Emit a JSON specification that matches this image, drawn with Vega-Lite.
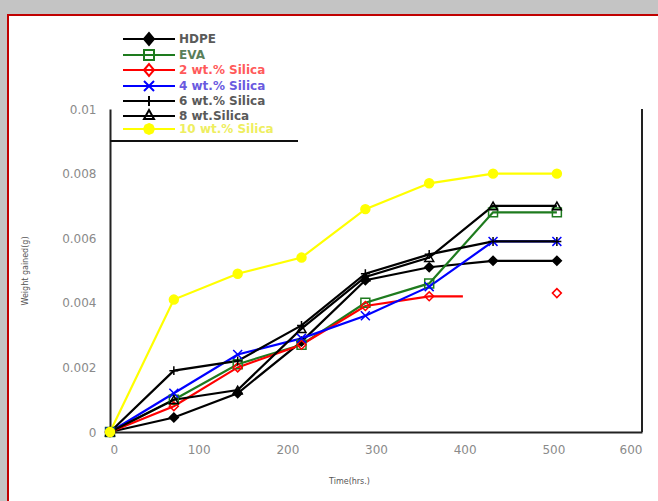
{
  "$schema": "https://vega.github.io/schema/vega-lite/v6.json",
  "autosize": "none",
  "width": 653,
  "height": 489,
  "padding": {"left": 8, "top": 15, "right": -3, "bottom": -3},
  "background": "#c4c4c4",
  "config": {
    "view": {"fill": "white", "stroke": "#c00000", "strokeWidth": 2},
    "font": "DejaVu Sans",
    "legend": {
      "orient": "none", "legendX": 135, "legendY": 18, "title": null, "padding": 0,
      "symbolSize": 100, "symbolStrokeWidth": 2, "rowPadding": -4, "labelOffset": 24,
      "labelFont": "DejaVu Sans", "labelFontSize": 12, "labelFontWeight": "bold"
    }
  },
  "data": {
    "values": [
      {"s": "HDPE", "t": 0, "w": 0, "seg": "a", "m": 1},
      {"s": "HDPE", "t": 72, "w": 0.00045, "seg": "a", "m": 1},
      {"s": "HDPE", "t": 144, "w": 0.0012, "seg": "a", "m": 1},
      {"s": "HDPE", "t": 216, "w": 0.0028, "seg": "a", "m": 1},
      {"s": "HDPE", "t": 288, "w": 0.0047, "seg": "a", "m": 1},
      {"s": "HDPE", "t": 360, "w": 0.0051, "seg": "a", "m": 1},
      {"s": "HDPE", "t": 432, "w": 0.0053, "seg": "a", "m": 1},
      {"s": "HDPE", "t": 504, "w": 0.0053, "seg": "a", "m": 1},
      {"s": "EVA", "t": 0, "w": 0, "seg": "a", "m": 1},
      {"s": "EVA", "t": 72, "w": 0.0010, "seg": "a", "m": 1},
      {"s": "EVA", "t": 144, "w": 0.0021, "seg": "a", "m": 1},
      {"s": "EVA", "t": 216, "w": 0.0027, "seg": "a", "m": 1},
      {"s": "EVA", "t": 288, "w": 0.0040, "seg": "a", "m": 1},
      {"s": "EVA", "t": 360, "w": 0.0046, "seg": "a", "m": 1},
      {"s": "EVA", "t": 432, "w": 0.0068, "seg": "a", "m": 1},
      {"s": "EVA", "t": 504, "w": 0.0068, "seg": "a", "m": 1},
      {"s": "2 wt.% Silica", "t": 0, "w": 0, "seg": "a", "m": 1},
      {"s": "2 wt.% Silica", "t": 72, "w": 0.0008, "seg": "a", "m": 1},
      {"s": "2 wt.% Silica", "t": 144, "w": 0.0020, "seg": "a", "m": 1},
      {"s": "2 wt.% Silica", "t": 216, "w": 0.0027, "seg": "a", "m": 1},
      {"s": "2 wt.% Silica", "t": 288, "w": 0.0039, "seg": "a", "m": 1},
      {"s": "2 wt.% Silica", "t": 360, "w": 0.0042, "seg": "a", "m": 1},
      {"s": "2 wt.% Silica", "t": 398, "w": 0.0042, "seg": "a", "m": 0},
      {"s": "2 wt.% Silica", "t": 504, "w": 0.0043, "seg": "b", "m": 1},
      {"s": "4 wt.% Silica", "t": 0, "w": 0, "seg": "a", "m": 1},
      {"s": "4 wt.% Silica", "t": 72, "w": 0.0012, "seg": "a", "m": 1},
      {"s": "4 wt.% Silica", "t": 144, "w": 0.0024, "seg": "a", "m": 1},
      {"s": "4 wt.% Silica", "t": 216, "w": 0.0029, "seg": "a", "m": 1},
      {"s": "4 wt.% Silica", "t": 288, "w": 0.0036, "seg": "a", "m": 1},
      {"s": "4 wt.% Silica", "t": 360, "w": 0.0045, "seg": "a", "m": 1},
      {"s": "4 wt.% Silica", "t": 432, "w": 0.0059, "seg": "a", "m": 1},
      {"s": "4 wt.% Silica", "t": 504, "w": 0.0059, "seg": "a", "m": 1},
      {"s": "6 wt.% Silica", "t": 0, "w": 0, "seg": "a", "m": 1},
      {"s": "6 wt.% Silica", "t": 72, "w": 0.0019, "seg": "a", "m": 1},
      {"s": "6 wt.% Silica", "t": 144, "w": 0.0022, "seg": "a", "m": 1},
      {"s": "6 wt.% Silica", "t": 216, "w": 0.0033, "seg": "a", "m": 1},
      {"s": "6 wt.% Silica", "t": 288, "w": 0.0049, "seg": "a", "m": 1},
      {"s": "6 wt.% Silica", "t": 360, "w": 0.0055, "seg": "a", "m": 1},
      {"s": "6 wt.% Silica", "t": 432, "w": 0.0059, "seg": "a", "m": 1},
      {"s": "6 wt.% Silica", "t": 504, "w": 0.0059, "seg": "a", "m": 1},
      {"s": "8 wt.Silica", "t": 0, "w": 0, "seg": "a", "m": 1},
      {"s": "8 wt.Silica", "t": 72, "w": 0.0010, "seg": "a", "m": 1},
      {"s": "8 wt.Silica", "t": 144, "w": 0.0013, "seg": "a", "m": 1},
      {"s": "8 wt.Silica", "t": 216, "w": 0.0032, "seg": "a", "m": 1},
      {"s": "8 wt.Silica", "t": 288, "w": 0.0048, "seg": "a", "m": 1},
      {"s": "8 wt.Silica", "t": 360, "w": 0.0054, "seg": "a", "m": 1},
      {"s": "8 wt.Silica", "t": 432, "w": 0.0070, "seg": "a", "m": 1},
      {"s": "8 wt.Silica", "t": 504, "w": 0.0070, "seg": "a", "m": 1},
      {"s": "10 wt.% Silica", "t": 0, "w": 0, "seg": "a", "m": 1},
      {"s": "10 wt.% Silica", "t": 72, "w": 0.0041, "seg": "a", "m": 1},
      {"s": "10 wt.% Silica", "t": 144, "w": 0.0049, "seg": "a", "m": 1},
      {"s": "10 wt.% Silica", "t": 216, "w": 0.0054, "seg": "a", "m": 1},
      {"s": "10 wt.% Silica", "t": 288, "w": 0.0069, "seg": "a", "m": 1},
      {"s": "10 wt.% Silica", "t": 360, "w": 0.0077, "seg": "a", "m": 1},
      {"s": "10 wt.% Silica", "t": 432, "w": 0.0080, "seg": "a", "m": 1},
      {"s": "10 wt.% Silica", "t": 504, "w": 0.0080, "seg": "a", "m": 1}
    ]
  },
  "resolve": {
    "scale": {"stroke": "independent", "fill": "independent", "shape": "independent"},
    "legend": {"stroke": "independent", "fill": "independent", "shape": "independent"}
  },
  "layer": [
    {
      "mark": {"type": "rule", "color": "#111111", "strokeWidth": 1.5},
      "encoding": {
        "x": {"datum": 0, "type": "quantitative"},
        "x2": {"datum": 211},
        "y": {"datum": 0.009, "type": "quantitative"}
      }
    },
    {
      "mark": {"type": "rule", "color": "#222222", "strokeWidth": 2},
      "encoding": {
        "x": {"datum": 600, "type": "quantitative"},
        "y": {"datum": 0, "type": "quantitative"},
        "y2": {"datum": 0.01}
      }
    },
    {
      "mark": {"type": "line", "strokeWidth": 2.2},
      "encoding": {
        "x": {"field": "t", "type": "quantitative"},
        "y": {"field": "w", "type": "quantitative"},
        "stroke": {
          "field": "s", "type": "nominal", "legend": null,
          "scale": {
            "domain": ["HDPE", "EVA", "2 wt.% Silica", "4 wt.% Silica", "6 wt.% Silica", "8 wt.Silica", "10 wt.% Silica"],
            "range": ["#000000", "#1e7b1e", "#ff0000", "#0000ff", "#000000", "#000000", "#ffff00"]
          }
        },
        "detail": {"field": "seg", "type": "nominal"},
        "order": {"field": "t", "type": "quantitative"}
      }
    },
    {
      "transform": [{"filter": "datum.m == 1"}],
      "mark": {"type": "point", "filled": true, "strokeWidth": 1.5, "opacity": 1, "size": 80},
      "encoding": {
        "x": {"field": "t", "type": "quantitative"},
        "y": {"field": "w", "type": "quantitative"},
        "stroke": {
          "field": "s", "type": "nominal", "legend": null,
          "scale": {
            "domain": ["HDPE", "EVA", "2 wt.% Silica", "4 wt.% Silica", "6 wt.% Silica", "8 wt.Silica", "10 wt.% Silica"],
            "range": ["#000000", "#1e7b1e", "#ff0000", "#0000ff", "#000000", "#000000", "#ffff00"]
          }
        },
        "fill": {
          "field": "s", "type": "nominal", "legend": null,
          "scale": {
            "domain": ["HDPE", "EVA", "2 wt.% Silica", "4 wt.% Silica", "6 wt.% Silica", "8 wt.Silica", "10 wt.% Silica"],
            "range": ["#000000", "transparent", "transparent", "transparent", "transparent", "transparent", "#ffff00"]
          }
        },
        "shape": {
          "field": "s", "type": "nominal", "legend": null,
          "scale": {
            "domain": ["HDPE", "EVA", "2 wt.% Silica", "4 wt.% Silica", "6 wt.% Silica", "8 wt.Silica", "10 wt.% Silica"],
            "range": ["diamond", "square", "diamond", "M-1,-1L1,1M-1,1L1,-1", "M-1,0H1M0,-1V1", "triangle-up", "circle"]
          }
        }
      }
    },
    {
      "transform": [{"filter": "datum.t < 0"}],
      "mark": {"type": "point", "filled": true, "strokeWidth": 2, "opacity": 1},
      "encoding": {
        "x": {"field": "t", "type": "quantitative"},
        "y": {"field": "w", "type": "quantitative"},
        "stroke": {
          "field": "s", "type": "nominal",
          "scale": {
            "domain": ["HDPE", "EVA", "2 wt.% Silica", "4 wt.% Silica", "6 wt.% Silica", "8 wt.Silica", "10 wt.% Silica"],
            "range": ["#000000", "#1e7b1e", "#ff0000", "#0000ff", "#000000", "#000000", "#ffff00"]
          },
          "legend": {
            "labelColor": {"expr": "datum.value == 'EVA' ? '#5a7f5a' : datum.value == '2 wt.% Silica' ? '#ff5a5a' : datum.value == '4 wt.% Silica' ? '#6a5ae0' : datum.value == '10 wt.% Silica' ? '#eeee60' : '#5a5a5a'"}
          }
        },
        "fill": {
          "field": "s", "type": "nominal",
          "scale": {
            "domain": ["HDPE", "EVA", "2 wt.% Silica", "4 wt.% Silica", "6 wt.% Silica", "8 wt.Silica", "10 wt.% Silica"],
            "range": ["#000000", "transparent", "transparent", "transparent", "transparent", "transparent", "#ffff00"]
          },
          "legend": {
            "labelColor": {"expr": "datum.value == 'EVA' ? '#5a7f5a' : datum.value == '2 wt.% Silica' ? '#ff5a5a' : datum.value == '4 wt.% Silica' ? '#6a5ae0' : datum.value == '10 wt.% Silica' ? '#eeee60' : '#5a5a5a'"}
          }
        },
        "shape": {
          "field": "s", "type": "nominal",
          "scale": {
            "domain": ["HDPE", "EVA", "2 wt.% Silica", "4 wt.% Silica", "6 wt.% Silica", "8 wt.Silica", "10 wt.% Silica"],
            "range": [
              "M-5.2,0H5.2M-1,0L0,-1.2L1,0L0,1.2Z",
              "M-5.2,0H5.2M-1,-1H1V1H-1Z",
              "M-5.2,0H5.2M-1,0L0,-1.2L1,0L0,1.2Z",
              "M-5.2,0H5.2M-1,-1L1,1M-1,1L1,-1",
              "M-5.2,0H5.2M0,-1V1",
              "M-5.2,0H5.2M0,-1.2L1,0.6L-1,0.6Z",
              "M-5.2,0H5.2M0,-1L0.7,-0.7L1,0L0.7,0.7L0,1L-0.7,0.7L-1,0L-0.7,-0.7Z"
            ]
          },
          "legend": {
            "labelColor": {"expr": "datum.value == 'EVA' ? '#5a7f5a' : datum.value == '2 wt.% Silica' ? '#ff5a5a' : datum.value == '4 wt.% Silica' ? '#6a5ae0' : datum.value == '10 wt.% Silica' ? '#eeee60' : '#5a5a5a'"}
          }
        }
      }
    }
  ],
  "encoding": {
    "x": {
      "type": "quantitative",
      "scale": {"domain": [0, 600], "range": [102, 634], "nice": false, "zero": false},
      "axis": {
        "title": "Time(hrs.)", "offset": -72, "values": [0, 100, 200, 300, 400, 500, 600],
        "ticks": false, "grid": false, "domainColor": "#222222", "domainWidth": 2,
        "labelFont": "DejaVu Sans", "labelFontSize": 12, "labelColor": "#8a8a8a", "labelPadding": 12,
        "titleFont": "DejaVu Sans", "titleFontSize": 8, "titleFontWeight": "normal", "titleColor": "#555555",
        "titlePadding": 22, "titleX": 341, "titleAnchor": "middle"
      }
    },
    "y": {
      "type": "quantitative",
      "scale": {"domain": [0, 0.01], "range": [417, 94], "nice": false, "zero": false},
      "axis": {
        "title": "Weight gained(g)", "offset": -102, "values": [0, 0.002, 0.004, 0.006, 0.008, 0.01],
        "format": "~g", "ticks": false, "grid": false, "domainColor": "#222222", "domainWidth": 2,
        "labelFont": "DejaVu Sans", "labelFontSize": 12, "labelColor": "#8a8a8a", "labelPadding": 14,
        "titleFont": "DejaVu Sans", "titleFontSize": 8, "titleFontWeight": "normal", "titleColor": "#555555",
        "titlePadding": 32
      }
    }
  }
}
